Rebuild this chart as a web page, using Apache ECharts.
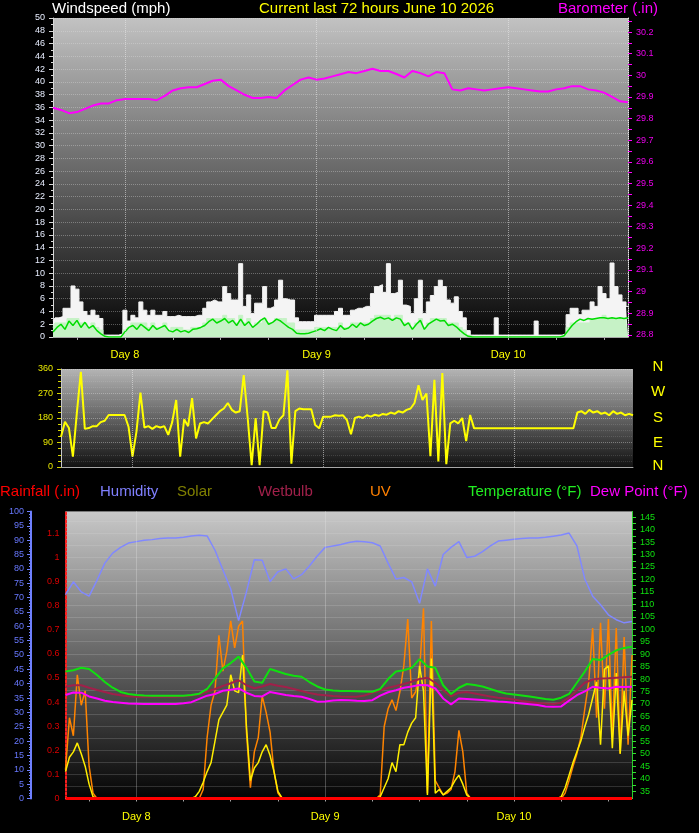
<!DOCTYPE html>
<html><head><meta charset="utf-8">
<script src="https://cdn.jsdelivr.net/npm/echarts@6/dist/echarts.min.js"></script>
<style>html,body{margin:0;padding:0;background:#000;}#c{width:699px;height:833px;}</style>
</head><body><div id="c"></div>
<script>
// time axis: hours counted from Day 7 00:00; the record starts Day 7 15:00
const START_HOUR = 15;
const END_HOUR = 87;
const dayTicks = [24, 48, 72];
const dayLabels = ['Day 8', 'Day 9', 'Day 10'];
const sixHourTicks = [18, 24, 30, 36, 42, 48, 54, 60, 66, 72, 78, 84];
const baroTicks = [28.8, 28.9, 29.0, 29.1, 29.2, 29.3, 29.4, 29.5, 29.6, 29.7, 29.8, 29.9, 30.0, 30.1, 30.2];
const tempTicks = [35, 40, 45, 50, 55, 60, 65, 70, 75, 80, 85, 90, 95, 100, 105, 110, 115, 120, 125, 130, 135, 140, 145];
const compassLetters = ['N', 'W', 'S', 'E', 'N'];

// hourly series (Day 7 15:00 .. Day 10 15:00)
const barometer = [29.85,29.84,29.825,29.83,29.845,29.86,29.87,29.87,29.885,29.89,29.89,29.89,29.89,29.885,29.905,29.93,29.94,29.945,29.945,29.96,29.975,29.98,29.95,29.93,29.91,29.895,29.895,29.9,29.895,29.93,29.955,29.98,29.99,29.98,29.985,29.995,30.005,30.015,30.01,30.02,30.03,30.02,30.02,30.006,29.99,30.02,30.01,29.995,30.015,30.01,29.935,29.93,29.94,29.935,29.93,29.935,29.94,29.945,29.94,29.935,29.93,29.925,29.925,29.935,29.94,29.95,29.95,29.935,29.93,29.92,29.90,29.88,29.875];
const humidity = [71,75.5,72,70.5,76,82,85.5,87.5,89,89.5,90,90.2,90.6,90.8,90.8,91,91.5,91.7,91.5,86.5,79.7,73,62,72,83.2,83,75.6,79,80,76.5,78,81,84.5,87.5,88,88.5,89.2,89.6,89.5,89.1,88,82,76.5,77,75.5,68,80,74,85,87.5,89.5,84,84.4,86,88,89.7,90,90.3,90.6,90.8,90.8,91,91.4,91.8,92.5,88,76.5,70.5,67.5,64,62.3,61.2,61.7];
const temperature = [83,83.5,84.5,84,81.6,78.8,76.5,74.8,74,73.6,73.4,73.3,73.3,73.3,73.3,73.3,73.6,74.1,76,80.2,84.3,86.4,89,84.5,79,78.5,84,83,82,81.3,80.9,78.8,77,75.8,75.4,75.2,75.2,75.1,75,74.9,76,80,83,83.5,84.5,88,85,84.5,77.5,74,76.5,78,77.6,77,76,75,74.2,73.8,73.4,73,72.5,72,71.7,72.5,74,78.5,83,88,87.6,89.7,91.5,92.5,93];
const dewPoint = [73.6,74.6,74.5,73,72.2,71.3,70.8,70.5,70.2,70.1,70,70,70,70,70,70.3,70.7,72,73.3,74,75.3,75.7,76.2,74.5,73.2,73,74.8,74.2,73.6,73.2,72.9,72,70.9,71,71.4,71.6,71.5,71.3,71.2,71.5,73.3,74.7,75.5,76.5,77,77.6,77.5,76.2,72.2,69.8,72.2,72,71.8,71.6,71.3,71,70.8,70.5,70.2,69.9,69.6,69,68.9,69,71.3,73.5,75,76.9,76.5,76.2,76.9,76.8,76.9];
const wetBulb = [76.9,77.5,77.5,76.5,75.6,74.8,74,73.5,73.1,72.9,72.9,72.9,72.9,72.9,72.9,73.1,73.4,73.9,75,76,77.2,78.3,79.5,77.5,76.3,77,78,77.3,76.8,76,75.2,74.4,73.8,73.5,73.2,73,72.9,72.9,73.4,74.5,75.5,76.5,77.2,78,78.9,80,80.5,78.5,75.5,73,74.5,74.8,74.2,73.6,73,72.5,72.2,71.8,71.2,70.8,70.4,70.2,70,70.5,72.5,75.5,78.5,79.8,80.2,80.3,80.5,80.7,80.9];
const rainfall = [0,0,0,0,0,0,0,0,0,0,0,0,0,0,0,0,0,0,0,0,0,0,0,0,0,0,0,0,0,0,0,0,0,0,0,0,0,0,0,0,0,0,0,0,0,0,0,0,0,0,0,0,0,0,0,0,0,0,0,0,0,0,0,0,0,0,0,0,0,0,0,0,0];

// half-hourly series
const windGust = [2.5,3,3.2,4.5,4.5,8,7.5,5.5,4,3.4,4.2,3.4,2.9,
 0.3,0.3,0.3,0.3,0.5,
 4.2,2.5,3.4,3,5.5,4.2,3.4,4.2,3.4,3.4,4,3.2,3.2,3.4,3.2,3.2,3.2,3.2,3.4,3.4,
 4.5,5.5,5.8,5.5,5.5,7.9,6.8,5.8,5.8,11.5,4.8,6.6,3.7,5.3,5.3,7.9,4.5,4.8,5.8,8.9,6,5.8,5.8,
 3,2.4,2.4,2.4,2.4,3.4,3.4,3.4,3.4,3.4,4,4.5,3.4,3.4,4.2,4.5,4.5,4.8,4.8,
 6.8,7.9,8.2,7,11.5,6.8,7,8.9,5,4.8,3.7,6,8.9,3.7,5.5,6.5,7.9,8.9,7.9,5.8,5.3,6.3,
 4,3,1,
 0.3,0.3,0.3,0.3,0.3,0.3,3,0.3,0.3,0.3,0.3,0.3,0.3,0.3,0.3,0.3,2.5,0.3,0.3,0.3,0.3,0.3,0.3,
 0.5,3.5,4.5,4.5,3.5,4.2,4.2,5.5,4.8,7.9,6.8,6,11.6,7.9,6.6,5.5,4.8];
const windSpeed = [1.5,2.2,2.2,2.2,2.9,2.9,2.9,2.2,2.2,1.5,2.2,1.5,1.1,
 0,0,0,0,0,
 1.1,1.5,2.2,2.2,2.2,2.2,1.5,2.2,1.5,1.5,2.2,1.1,1.5,1.5,1.5,1.1,1.1,1.5,1.5,1.5,
 2.2,2.9,2.9,2.9,2.9,3.4,2.9,2.9,2.2,3.4,2.2,2.9,1.5,2.2,2.2,2.9,2.2,2.2,2.9,2.9,2.9,2.2,2.2,
 1.1,1.1,1.1,1.1,1.1,1.5,1.5,1.5,1.5,1.5,1.5,2.2,1.5,1.5,2.2,2.2,2.2,2.2,2.2,
 2.9,3.4,3.4,3.4,3.4,2.9,3.4,3.4,2.2,2.2,1.5,2.2,2.9,1.5,2.2,2.9,2.9,2.9,2.9,2.2,2.2,2.2,
 1.5,1.1,0.3,
 0,0,0,0,0,0,0,0,0,0,0,0,0,0,0,0,0,0,0,0,0,0,0,
 0.3,1.5,2.2,2.2,2.2,2.2,2.2,2.9,2.9,2.9,3.4,2.9,2.9,2.9,2.9,2.9,2.9];
const windAvg = [0.8,1.5,2.0,1.2,2.5,1.8,2.6,1.5,2.3,1.4,1.8,1.0,0.5,
 0.1,0,0,0,0,
 0.8,1.5,1.8,1.2,2.0,1.5,1.0,1.8,1.2,1.5,1.8,1.0,0.8,1.2,0.8,1.0,0.7,1.2,1.3,1.5,
 1.8,2.4,2.8,2.2,2.5,2.9,2.2,2.6,1.8,2.8,1.8,2.4,1.5,2.0,2.6,3.0,2.0,2.3,2.8,2.5,2.0,1.5,1.2,
 0.6,0.5,0.5,0.6,0.8,1.0,1.3,1.0,1.5,1.2,1.0,1.8,1.2,1.4,2.0,1.5,2.2,1.8,2.0,
 2.5,2.9,3.1,2.8,3.0,2.6,3.0,2.8,1.8,2.2,1.2,2.0,2.6,1.2,2.0,2.4,2.8,2.5,2.6,1.8,2.0,1.6,
 1.0,0.5,0.1,
 0,0,0,0,0,0,0,0,0,0,0,0,0,0,0,0,0,0,0,0,0,0,0,
 0.2,1.0,1.8,2.4,2.8,2.6,2.9,2.8,2.9,3.0,3.0,2.9,3.0,2.9,3.0,2.9,3.0];
const windDir = [111,166,143,38,200,350,140,143,150,150,
 165,170,191,191,191,191,191,148,38,130,
 273,145,150,140,150,145,150,118,165,246,
 38,175,150,253,105,160,165,160,175,190,
 205,215,235,210,200,205,338,180,7,180,
 7,205,200,143,143,175,190,355,12,205,
 215,212,212,212,154,142,185,185,185,190,
 188,190,172,120,180,185,180,190,185,192,
 188,195,192,200,195,205,200,210,215,235,
 300,246,270,40,320,20,345,10,160,170,
 160,180,95,191,142,142,142,142,142,142,
 142,142,142,142,142,142,142,142,142,142,
 142,142,142,142,142,142,142,142,142,142,
 200,205,195,210,200,205,195,200,190,205,
 195,200,190,195,190];
const uvIndex = [1.6,4.5,3.5,6.9,5.2,6.0,1.8,0.3,
 0,0,0,0,0,0,0,0,0,0,0,0,0,0,0,0,0,0,0,0,0,0,0,0,
 0,0,0,0.5,3.4,5.2,6.0,9.1,7.1,8.2,9.9,8.4,9.6,9.9,3.7,0.6,2.6,3.4,5.7,4.8,3.7,1.5,0.3,0,
 0,0,0,0,0,0,0,0,0,0,0,0,0,0,0,0,0,0,0,0,0,0,0,
 0,0.2,4.0,5.0,5.5,4.9,5.95,7.4,10.0,5.6,5.95,7.1,10.6,0.3,9.9,1.0,0.6,0.2,0.3,0.5,1.5,3.8,2.6,0.3,
 0,0,0,0,0,0,0,0,0,0,0,0,0,0,0,0,0,0,0,0,0,0,
 0,0,0.3,1.0,1.8,2.5,3.4,5.0,6.5,9.5,4.5,9.8,5.0,10.0,3.5,9.5,2.5,9.0,3.0,8.0];
const solar = [150,230,260,310,250,180,80,10,
 0,0,0,0,0,0,0,0,0,0,0,0,0,0,0,0,0,0,0,0,0,0,0,0,
 0,10,40,90,150,200,320,440,480,520,690,600,590,800,400,100,170,200,260,300,240,150,40,5,
 0,0,0,0,0,0,0,0,0,0,0,0,0,0,0,0,0,0,0,0,0,0,0,
 0,10,60,110,200,150,300,300,370,420,450,740,600,20,780,30,50,20,40,60,100,130,80,20,
 0,0,0,0,0,0,0,0,0,0,0,0,0,0,0,0,0,0,0,0,0,0,
 0,10,60,130,200,260,320,400,470,560,650,300,720,740,280,700,250,600,350,550];

function hourly(arr) { return arr.map((v, i) => [START_HOUR + i, v]); }
function halfHourly(arr) { return arr.map((v, i) => [START_HOUR + i * 0.5, v]); }

const baroMinor = [];
for (let k = 0; k <= 29; k++) baroMinor.push(+(28.8 + k * 0.05).toFixed(2));
const tempMinor = [];
for (let k = 0; k <= 44; k++) tempMinor.push(35 + k * 2.5);

const FONT = '"Liberation Sans", Arial, sans-serif';
const grad = (a, b) => new echarts.graphic.LinearGradient(0, 0, 0, 1, [{offset: 0, color: a}, {offset: 1, color: b}]);

function xAxisFor(g, showLabels, margin) {
  return {
    type: 'value', gridIndex: g, min: START_HOUR, max: END_HOUR,
    axisLine: {show: true, onZero: false, lineStyle: {color: '#a8a8a8', width: 1}},
    axisTick: {show: showLabels, customValues: sixHourTicks, length: 3, lineStyle: {color: '#a8a8a8'}},
    axisLabel: {show: showLabels, customValues: dayTicks, color: '#ffff00', fontSize: 11, fontFamily: FONT, margin: margin,
      formatter: v => dayLabels[dayTicks.indexOf(Math.round(v))] || ''},
    splitLine: {show: false}
  };
}
const dayLineMark = {
  silent: true, symbol: ['none', 'none'], label: {show: false},
  lineStyle: {color: 'rgba(235,235,235,0.55)', type: 'dotted', width: 1},
  data: dayTicks.map(d => ({xAxis: d}))
};
const dotted = {show: true, lineStyle: {color: 'rgba(225,225,225,0.35)', type: 'dotted', width: 1}};

const chart = echarts.init(document.getElementById('c'), null, {renderer: 'canvas'});
chart.setOption({
  backgroundColor: '#000',
  animation: false,
  textStyle: {fontFamily: FONT},
  grid: [
    {left: 53, top: 18, width: 575, height: 319, show: true, borderWidth: 0, backgroundColor: grad('#c2c2c2', '#060606')},
    {left: 61, top: 369, width: 572, height: 98, show: true, borderWidth: 0, backgroundColor: grad('#b4b4b4', '#121212')},
    {left: 65.5, top: 511.5, width: 566.5, height: 287, show: true, borderWidth: 0, backgroundColor: grad('#c8c8c8', '#040404')}
  ],
  xAxis: [xAxisFor(0, true, 12), xAxisFor(1, false, 10), xAxisFor(2, true, 13)],
  yAxis: [
    {type: 'value', gridIndex: 0, min: 0, max: 50, interval: 2, position: 'left',
      axisLine: {show: true, lineStyle: {color: '#d8d8d8'}},
      axisTick: {show: true, length: 4, lineStyle: {color: '#d8d8d8'}},
      minorTick: {show: true, splitNumber: 2, length: 2, lineStyle: {color: '#d8d8d8'}},
      axisLabel: {color: '#e8eeff', fontSize: 9, margin: 8},
      splitLine: dotted},
    {type: 'value', gridIndex: 0, min: 28.79, max: 30.265, position: 'right',
      axisLine: {show: true, lineStyle: {color: '#e8e8e8', type: 'dotted'}},
      axisTick: {show: true, customValues: baroMinor, length: 4, lineStyle: {color: '#ff00ff'}},
      axisLabel: {customValues: baroTicks, color: '#ee00ee', fontSize: 9, margin: 8,
        formatter: v => String(+(+v).toFixed(1))},
      splitLine: {show: false}},
    {type: 'value', gridIndex: 1, min: 0, max: 360, interval: 90, position: 'left',
      axisLine: {show: true, lineStyle: {color: '#c8c8c8'}},
      axisTick: {show: true, length: 4, lineStyle: {color: '#d8d800'}},
      minorTick: {show: true, splitNumber: 4, length: 3, lineStyle: {color: '#d8d800'}},
      axisLabel: {color: '#e8e800', fontSize: 9, margin: 8},
      splitLine: {show: true, lineStyle: {color: 'rgba(225,225,225,0.4)', type: 'dotted'}},
      minorSplitLine: {show: true, lineStyle: {color: 'rgba(225,225,225,0.15)', type: 'dotted'}}},
    {type: 'value', gridIndex: 2, min: 0, max: 1.19, interval: 0.05, position: 'left',
      axisLine: {show: true, lineStyle: {color: '#ff2020', type: 'dotted', width: 2}},
      axisTick: {show: false},
      axisLabel: {color: '#dd0000', fontSize: 9, margin: 6,
        formatter: v => { const t = Math.round(v * 10); return Math.abs(v * 10 - t) < 1e-6 ? String(t / 10) : ''; }},
      splitLine: dotted},
    {type: 'value', gridIndex: 2, min: 0, max: 100, interval: 5, position: 'left', offset: 34.5,
      axisLine: {show: true, lineStyle: {color: '#6f80ff', width: 2}},
      axisTick: {show: true, length: 4, lineStyle: {color: '#6f80ff'}},
      minorTick: {show: true, splitNumber: 5, length: 2, lineStyle: {color: '#6f80ff'}},
      axisLabel: {color: '#6878ff', fontSize: 9, margin: 7},
      splitLine: {show: false}},
    {type: 'value', gridIndex: 2, min: 32, max: 147.3, position: 'right',
      axisLine: {show: true, lineStyle: {color: '#30e030', type: 'dotted'}},
      axisTick: {show: true, customValues: tempMinor, length: 4, lineStyle: {color: '#30e030'}},
      axisLabel: {customValues: tempTicks, color: '#10e010', fontSize: 9, margin: 8},
      splitLine: {show: false}},
    {type: 'value', gridIndex: 2, min: 0, max: 1600, show: false},
    {type: 'value', gridIndex: 2, min: 0, max: 16, show: false}
  ],
  series: [
    {name: 'Gust', type: 'line', xAxisIndex: 0, yAxisIndex: 0, data: halfHourly(windGust), step: 'middle',
      showSymbol: false, lineStyle: {color: '#f4f4f4', width: 1}, areaStyle: {color: '#f4f4f4', opacity: 1},
      markLine: dayLineMark, z: 2},
    {name: 'Wind', type: 'line', xAxisIndex: 0, yAxisIndex: 0, data: halfHourly(windSpeed), step: 'middle',
      showSymbol: false, lineStyle: {color: '#c6f2c6', width: 1}, areaStyle: {color: '#c6f2c6', opacity: 1}, z: 3},
    {name: 'WindAvg', type: 'line', xAxisIndex: 0, yAxisIndex: 0, data: halfHourly(windAvg),
      showSymbol: false, lineStyle: {color: '#00dd00', width: 1.5}, z: 4},
    {name: 'Barometer', type: 'line', xAxisIndex: 0, yAxisIndex: 1, data: hourly(barometer),
      showSymbol: false, lineStyle: {color: '#ff00ff', width: 2}, z: 5},
    {name: 'Direction', type: 'line', xAxisIndex: 1, yAxisIndex: 2, data: halfHourly(windDir),
      showSymbol: false, lineStyle: {color: '#ffff00', width: 2}, markLine: dayLineMark, z: 3},
    {name: 'UV', type: 'line', xAxisIndex: 2, yAxisIndex: 7, data: halfHourly(uvIndex),
      showSymbol: false, lineStyle: {color: '#ff8400', width: 1.5}, z: 2,
      markLine: dayLineMark},
    {name: 'Solar', type: 'line', xAxisIndex: 2, yAxisIndex: 6, data: halfHourly(solar),
      showSymbol: false, lineStyle: {color: '#ffee00', width: 1.5}, z: 3},
    {name: 'Humidity', type: 'line', xAxisIndex: 2, yAxisIndex: 4, data: hourly(humidity),
      showSymbol: false, lineStyle: {color: '#8088ff', width: 1.5}, z: 4},
    {name: 'Wetbulb', type: 'line', xAxisIndex: 2, yAxisIndex: 5, data: hourly(wetBulb),
      showSymbol: false, lineStyle: {color: '#a0204a', width: 2}, z: 5},
    {name: 'Dew Point', type: 'line', xAxisIndex: 2, yAxisIndex: 5, data: hourly(dewPoint),
      showSymbol: false, lineStyle: {color: '#ff00ff', width: 2}, z: 6},
    {name: 'Temperature', type: 'line', xAxisIndex: 2, yAxisIndex: 5, data: hourly(temperature),
      showSymbol: false, lineStyle: {color: '#10e010', width: 2}, z: 7},
    {name: 'Rainfall', type: 'line', xAxisIndex: 2, yAxisIndex: 3, data: hourly(rainfall),
      showSymbol: false, lineStyle: {color: '#ff0000', width: 3}, z: 8}
  ],
  graphic: [
    {type: 'text', x: 52, y: 1, style: {text: 'Windspeed (mph)', fill: '#ffffff', font: '15px ' + FONT}},
    {type: 'text', x: 259, y: 1, style: {text: 'Current last 72 hours June 10 2026', fill: '#ffff00', font: '15px ' + FONT}},
    {type: 'text', x: 558, y: 1, style: {text: 'Barometer (.in)', fill: '#ff00ff', font: '15px ' + FONT}},
    {type: 'text', x: 0, y: 484, style: {text: 'Rainfall (.in)', fill: '#ff0000', font: '15px ' + FONT}},
    {type: 'text', x: 100, y: 484, style: {text: 'Humidity', fill: '#8080ff', font: '15px ' + FONT}},
    {type: 'text', x: 177, y: 484, style: {text: 'Solar', fill: '#808000', font: '15px ' + FONT}},
    {type: 'text', x: 258, y: 484, style: {text: 'Wetbulb', fill: '#a0204a', font: '15px ' + FONT}},
    {type: 'text', x: 370, y: 484, style: {text: 'UV', fill: '#ff8000', font: '15px ' + FONT}},
    {type: 'text', x: 468, y: 484, style: {text: 'Temperature (°F)', fill: '#22ee22', font: '15px ' + FONT}},
    {type: 'text', x: 590, y: 484, style: {text: 'Dew Point (°F)', fill: '#ff00ff', font: '15px ' + FONT}}
  ].concat(compassLetters.map((t, k) => ({
    type: 'text', x: 658, y: [367, 392, 418, 443, 466][k],
    style: {text: t, fill: '#ffff00', font: '15px ' + FONT, align: 'center', verticalAlign: 'middle'}
  })))
});
</script>
</body></html>
